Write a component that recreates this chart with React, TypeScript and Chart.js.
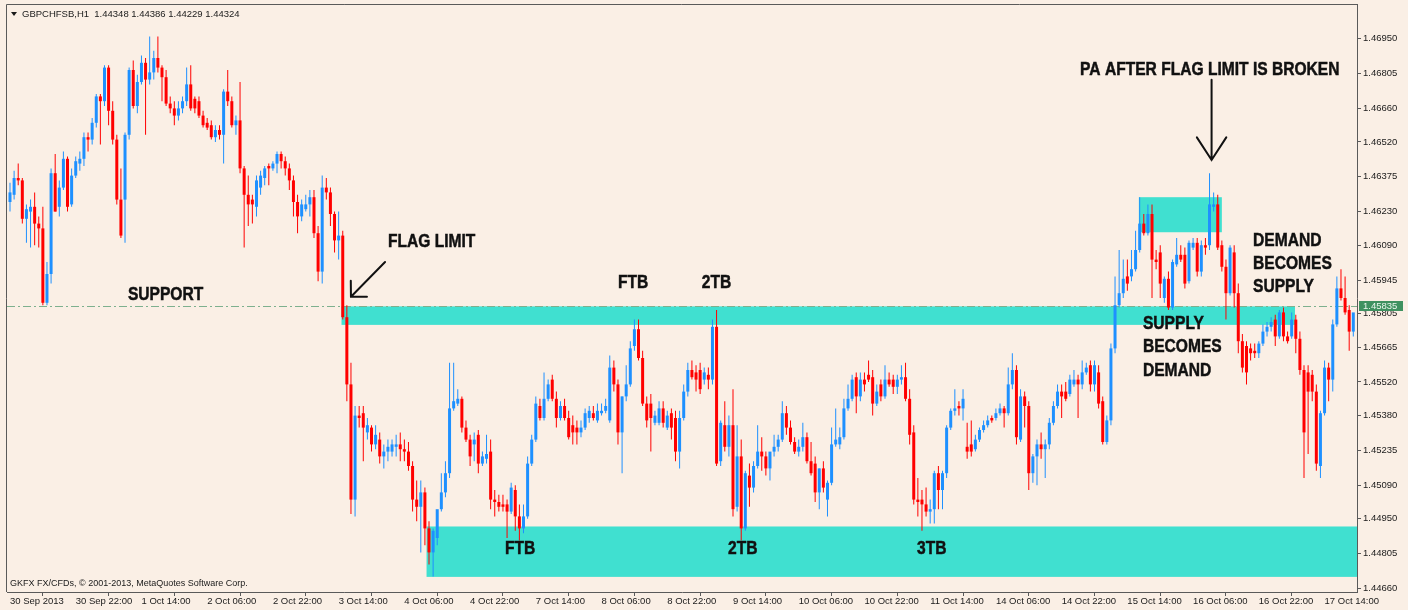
import { useEffect, useRef } from 'react';
import { Chart, registerables } from 'chart.js';

Chart.register(...registerables);

// [open, high, low, close] per H1 bar
const ohlc: [number, number, number, number][] = [
  [1.4627,1.4635,1.4623,1.4631],[1.4630,1.4640,1.4628,1.4637],[1.4637,1.4643,1.4634,1.4636],[1.4636,1.4637,1.4618,1.4620],
  [1.4620,1.4626,1.4610,1.4624],[1.4623,1.4628,1.4608,1.4625],[1.4625,1.4631,1.4609,1.4618],[1.4618,1.4621,1.4608,1.4616],
  [1.4616,1.4625,1.4584,1.4585],[1.4585,1.4602,1.4584,1.4597],[1.4597,1.4641,1.4593,1.4639],[1.4639,1.4647,1.4623,1.4623],
  [1.4625,1.4636,1.4621,1.4633],[1.4633,1.4648,1.4632,1.4645],[1.4645,1.4646,1.4623,1.4625],[1.4626,1.4641,1.4625,1.4638],
  [1.4638,1.4646,1.4637,1.4644],[1.4643,1.4648,1.4640,1.4645],[1.4645,1.4656,1.4642,1.4654],[1.4654,1.4656,1.4648,1.4653],
  [1.4653,1.4662,1.4651,1.4660],[1.4660,1.4672,1.4658,1.4671],[1.4671,1.4672,1.4651,1.4669],[1.4669,1.4684,1.4667,1.4683],
  [1.4683,1.4684,1.4659,1.4665],[1.4665,1.4669,1.4651,1.4653],[1.4653,1.4655,1.4626,1.4628],[1.4628,1.4641,1.4612,1.4613],
  [1.4628,1.4656,1.4610,1.4655],[1.4655,1.4683,1.4653,1.4682],[1.4682,1.4686,1.4666,1.4667],[1.4667,1.4680,1.4664,1.4677],
  [1.4677,1.4688,1.4676,1.4685],[1.4685,1.4687,1.4655,1.4678],[1.4678,1.4696,1.4676,1.4681],[1.4681,1.4690,1.4678,1.4687],
  [1.4687,1.4696,1.4681,1.4683],[1.4683,1.4684,1.4669,1.4679],[1.4679,1.4682,1.4667,1.4668],[1.4668,1.4671,1.4664,1.4666],
  [1.4666,1.4669,1.4659,1.4663],[1.4663,1.4669,1.4661,1.4666],[1.4666,1.4671,1.4664,1.4669],[1.4669,1.4683,1.4667,1.4676],
  [1.4676,1.4684,1.4665,1.4666],[1.4670,1.4671,1.4664,1.4666],[1.4669,1.4671,1.4662,1.4663],[1.4663,1.4665,1.4658,1.4659],
  [1.4660,1.4662,1.4657,1.4658],[1.4659,1.4661,1.4653,1.4654],[1.4654,1.4659,1.4652,1.4657],[1.4657,1.4659,1.4653,1.4655],
  [1.4655,1.4674,1.4643,1.4673],[1.4673,1.4682,1.4667,1.4669],[1.4669,1.4671,1.4658,1.4659],[1.4659,1.4663,1.4655,1.4661],
  [1.4661,1.4677,1.4639,1.4641],[1.4641,1.4642,1.4608,1.4630],[1.4630,1.4638,1.4617,1.4626],[1.4628,1.4630,1.4618,1.4626],
  [1.4625,1.4638,1.4621,1.4636],[1.4633,1.4640,1.4630,1.4638],[1.4637,1.4642,1.4634,1.4641],[1.4642,1.4643,1.4634,1.4641],
  [1.4641,1.4644,1.4640,1.4643],[1.4643,1.4648,1.4639,1.4647],[1.4647,1.4648,1.4641,1.4644],[1.4644,1.4646,1.4638,1.4641],
  [1.4641,1.4643,1.4632,1.4636],[1.4636,1.4638,1.4621,1.4627],[1.4627,1.4630,1.4614,1.4621],[1.4621,1.4628,1.4619,1.4626],
  [1.4624,1.4630,1.4623,1.4626],[1.4626,1.4632,1.4621,1.4629],[1.4629,1.4632,1.4612,1.4614],[1.4614,1.4617,1.4594,1.4598],
  [1.4598,1.4638,1.4593,1.4633],[1.4633,1.4637,1.4628,1.4631],[1.4631,1.4633,1.4617,1.4622],[1.4622,1.4623,1.4606,1.4611],
  [1.4611,1.4623,1.4603,1.4613],[1.4613,1.4615,1.4578,1.4579],[1.4579,1.4584,1.4544,1.4551],[1.4551,1.4560,1.4497,1.4503],
  [1.4503,1.4542,1.4496,1.4538],[1.4538,1.4542,1.4533,1.4537],[1.4539,1.4542,1.4519,1.4533],[1.4531,1.4537,1.4528,1.4534],
  [1.4533,1.4534,1.4523,1.4526],[1.4526,1.4534,1.4524,1.4530],[1.4528,1.4531,1.4518,1.4521],[1.4521,1.4526,1.4516,1.4523],
  [1.4523,1.4528,1.4519,1.4525],[1.4523,1.4528,1.4521,1.4526],[1.4525,1.4530,1.4521,1.4526],[1.4526,1.4531,1.4519,1.4524],
  [1.4524,1.4528,1.4519,1.4523],[1.4523,1.4527,1.4515,1.4517],[1.4517,1.4519,1.4498,1.4503],[1.4503,1.4511,1.4494,1.4500],
  [1.4500,1.4511,1.4481,1.4506],[1.4506,1.4508,1.4484,1.4491],[1.4491,1.4494,1.4476,1.4481],[1.4481,1.4491,1.4471,1.4490],
  [1.4487,1.4494,1.4484,1.4499],[1.4499,1.4514,1.4498,1.4506],[1.4506,1.4519,1.4504,1.4514],[1.4514,1.4560,1.4512,1.4541],
  [1.4541,1.4560,1.4540,1.4544],[1.4543,1.4549,1.4542,1.4545],[1.4545,1.4546,1.4531,1.4533],[1.4533,1.4536,1.4527,1.4528],
  [1.4528,1.4530,1.4517,1.4521],[1.4526,1.4531,1.4519,1.4528],[1.4530,1.4532,1.4514,1.4518],[1.4518,1.4523,1.4517,1.4521],
  [1.4520,1.4530,1.4518,1.4522],[1.4523,1.4528,1.4499,1.4503],[1.4503,1.4507,1.4496,1.4502],[1.4502,1.4505,1.4498,1.4500],
  [1.4501,1.4505,1.4498,1.4500],[1.4501,1.4503,1.4487,1.4498],[1.4498,1.4510,1.4497,1.4508],[1.4507,1.4509,1.4490,1.4496],
  [1.4496,1.4501,1.4486,1.4491],[1.4491,1.4501,1.4489,1.4496],[1.4496,1.4521,1.4495,1.4518],[1.4518,1.4530,1.4517,1.4528],
  [1.4528,1.4546,1.4527,1.4543],[1.4542,1.4545,1.4536,1.4537],[1.4537,1.4556,1.4536,1.4545],[1.4545,1.4553,1.4544,1.4551],
  [1.4553,1.4555,1.4544,1.4545],[1.4545,1.4548,1.4533,1.4537],[1.4537,1.4544,1.4536,1.4542],[1.4542,1.4545,1.4536,1.4537],
  [1.4537,1.4540,1.4528,1.4529],[1.4534,1.4538,1.4526,1.4531],[1.4533,1.4536,1.4526,1.4531],[1.4531,1.4536,1.4529,1.4533],
  [1.4533,1.4541,1.4532,1.4539],[1.4537,1.4542,1.4535,1.4540],[1.4539,1.4542,1.4536,1.4537],[1.4536,1.4543,1.4535,1.4540],
  [1.4539,1.4543,1.4538,1.4540],[1.4540,1.4545,1.4539,1.4542],[1.4536,1.4563,1.4535,1.4558],[1.4558,1.4561,1.4548,1.4551],
  [1.4551,1.4553,1.4526,1.4531],[1.4531,1.4546,1.4514,1.4546],[1.4546,1.4559,1.4544,1.4551],[1.4551,1.4569,1.4550,1.4566],
  [1.4567,1.4578,1.4565,1.4574],[1.4574,1.4578,1.4561,1.4562],[1.4562,1.4565,1.4542,1.4543],[1.4543,1.4546,1.4533,1.4536],
  [1.4543,1.4547,1.4523,1.4537],[1.4535,1.4540,1.4534,1.4538],[1.4535,1.4544,1.4534,1.4541],[1.4541,1.4544,1.4533,1.4535],
  [1.4533,1.4540,1.4532,1.4538],[1.4539,1.4541,1.4528,1.4533],[1.4537,1.4540,1.4519,1.4523],[1.4523,1.4540,1.4516,1.4537],
  [1.4537,1.4551,1.4536,1.4548],[1.4548,1.4560,1.4546,1.4557],[1.4557,1.4561,1.4553,1.4554],[1.4556,1.4559,1.4548,1.4553],
  [1.4557,1.4560,1.4547,1.4549],[1.4553,1.4558,1.4551,1.4556],[1.4555,1.4558,1.4549,1.4553],[1.4553,1.4578,1.4551,1.4575],
  [1.4575,1.4582,1.4517,1.4518],[1.4519,1.4536,1.4517,1.4535],[1.4534,1.4544,1.4523,1.4525],[1.4525,1.4538,1.4521,1.4534],
  [1.4534,1.4549,1.4496,1.4499],[1.4500,1.4534,1.4498,1.4521],[1.4521,1.4528,1.4486,1.4491],[1.4491,1.4515,1.4490,1.4514],
  [1.4513,1.4518,1.4500,1.4508],[1.4508,1.4519,1.4506,1.4517],[1.4517,1.4534,1.4516,1.4523],[1.4523,1.4529,1.4515,1.4521],
  [1.4521,1.4523,1.4513,1.4516],[1.4516,1.4521,1.4511,1.4523],[1.4523,1.4530,1.4521,1.4525],[1.4525,1.4530,1.4523,1.4528],
  [1.4528,1.4544,1.4527,1.4539],[1.4539,1.4542,1.4530,1.4533],[1.4533,1.4536,1.4526,1.4527],[1.4527,1.4529,1.4522,1.4523],
  [1.4523,1.4528,1.4521,1.4525],[1.4525,1.4535,1.4523,1.4529],[1.4529,1.4531,1.4518,1.4519],[1.4519,1.4527,1.4513,1.4514],
  [1.4518,1.4521,1.4502,1.4506],[1.4506,1.4516,1.4499,1.4516],[1.4516,1.4519,1.4506,1.4508],[1.4503,1.4511,1.4496,1.4510],
  [1.4510,1.4533,1.4509,1.4526],[1.4526,1.4541,1.4525,1.4528],[1.4526,1.4533,1.4524,1.4529],[1.4529,1.4545,1.4528,1.4541],
  [1.4541,1.4551,1.4540,1.4545],[1.4545,1.4555,1.4544,1.4553],[1.4554,1.4556,1.4539,1.4546],[1.4546,1.4556,1.4544,1.4553],
  [1.4553,1.4556,1.4548,1.4551],[1.4555,1.4561,1.4552,1.4553],[1.4554,1.4557,1.4538,1.4543],[1.4543,1.4551,1.4542,1.4548],
  [1.4551,1.4553,1.4544,1.4546],[1.4546,1.4559,1.4545,1.4553],[1.4553,1.4556,1.4550,1.4551],[1.4553,1.4555,1.4547,1.4550],
  [1.4550,1.4555,1.4547,1.4553],[1.4553,1.4559,1.4551,1.4554],[1.4554,1.4560,1.4544,1.4545],[1.4545,1.4549,1.4526,1.4530],
  [1.4531,1.4534,1.4501,1.4503],[1.4503,1.4512,1.4496,1.4502],[1.4503,1.4507,1.4490,1.4501],[1.4501,1.4508,1.4496,1.4498],
  [1.4498,1.4503,1.4493,1.4499],[1.4499,1.4515,1.4493,1.4514],[1.4514,1.4517,1.4499,1.4507],[1.4507,1.4515,1.4499,1.4514],
  [1.4514,1.4534,1.4512,1.4533],[1.4533,1.4541,1.4532,1.4540],[1.4540,1.4549,1.4538,1.4541],[1.4542,1.4544,1.4538,1.4541],
  [1.4541,1.4549,1.4536,1.4545],[1.4525,1.4535,1.4520,1.4523],[1.4526,1.4536,1.4521,1.4523],[1.4524,1.4530,1.4523,1.4528],
  [1.4528,1.4533,1.4527,1.4532],[1.4532,1.4536,1.4531,1.4534],[1.4534,1.4538,1.4533,1.4536],[1.4537,1.4538,1.4535,1.4536],
  [1.4537,1.4541,1.4536,1.4539],[1.4539,1.4543,1.4538,1.4541],[1.4541,1.4542,1.4533,1.4539],[1.4539,1.4558,1.4538,1.4551],
  [1.4551,1.4564,1.4549,1.4557],[1.4557,1.4559,1.4526,1.4529],[1.4528,1.4549,1.4527,1.4546],[1.4546,1.4548,1.4533,1.4542],
  [1.4542,1.4544,1.4507,1.4514],[1.4514,1.4522,1.4510,1.4521],[1.4521,1.4528,1.4509,1.4526],[1.4526,1.4531,1.4520,1.4524],
  [1.4524,1.4528,1.4512,1.4526],[1.4526,1.4537,1.4524,1.4535],[1.4535,1.4544,1.4534,1.4542],[1.4542,1.4551,1.4541,1.4548],
  [1.4548,1.4551,1.4537,1.4546],[1.4548,1.4552,1.4544,1.4545],[1.4547,1.4555,1.4546,1.4553],[1.4551,1.4557,1.4550,1.4553],
  [1.4553,1.4555,1.4537,1.4551],[1.4551,1.4561,1.4549,1.4556],[1.4556,1.4560,1.4555,1.4558],[1.4559,1.4561,1.4548,1.4551],
  [1.4551,1.4561,1.4548,1.4559],[1.4556,1.4559,1.4541,1.4543],[1.4544,1.4546,1.4526,1.4527],[1.4527,1.4538,1.4526,1.4536],
  [1.4536,1.4568,1.4534,1.4566],[1.4566,1.4596,1.4564,1.4584],[1.4584,1.4607,1.4583,1.4589],[1.4589,1.4603,1.4587,1.4595],
  [1.4596,1.4603,1.4590,1.4593],[1.4596,1.4607,1.4594,1.4599],[1.4599,1.4615,1.4598,1.4607],[1.4607,1.4629,1.4606,1.4618],
  [1.4618,1.4622,1.4613,1.4614],[1.4614,1.4626,1.4613,1.4622],[1.4622,1.4626,1.4587,1.4603],[1.4603,1.4607,1.4599,1.4602],
  [1.4606,1.4609,1.4587,1.4593],[1.4587,1.4596,1.4585,1.4595],[1.4595,1.4598,1.4582,1.4583],[1.4583,1.4603,1.4582,1.4602],
  [1.4601,1.4612,1.4600,1.4605],[1.4605,1.4609,1.4602,1.4603],[1.4605,1.4608,1.4591,1.4593],[1.4594,1.4611,1.4593,1.4610],
  [1.4608,1.4612,1.4607,1.4610],[1.4610,1.4612,1.4596,1.4598],[1.4598,1.4611,1.4596,1.4609],[1.4609,1.4612,1.4605,1.4608],
  [1.4609,1.4639,1.4607,1.4626],[1.4625,1.4631,1.4623,1.4626],[1.4626,1.4630,1.4607,1.4608],[1.4609,1.4611,1.4598,1.4600],
  [1.4600,1.4603,1.4578,1.4589],[1.4589,1.4609,1.4588,1.4608],[1.4606,1.4609,1.4583,1.4589],[1.4589,1.4593,1.4564,1.4569],
  [1.4569,1.4572,1.4556,1.4558],[1.4567,1.4569,1.4551,1.4556],[1.4566,1.4568,1.4561,1.4564],[1.4565,1.4568,1.4562,1.4564],
  [1.4564,1.4569,1.4562,1.4568],[1.4568,1.4576,1.4567,1.4573],[1.4573,1.4577,1.4571,1.4575],[1.4575,1.4579,1.4573,1.4577],
  [1.4578,1.4580,1.4567,1.4571],[1.4571,1.4582,1.4570,1.4581],[1.4581,1.4583,1.4569,1.4571],[1.4571,1.4573,1.4568,1.4569],
  [1.4571,1.4581,1.4570,1.4578],[1.4578,1.4580,1.4564,1.4570],[1.4570,1.4573,1.4555,1.4557],[1.4557,1.4559,1.4512,1.4531],
  [1.4556,1.4559,1.4522,1.4548],[1.4555,1.4557,1.4544,1.4548],[1.4548,1.4551,1.4515,1.4518],[1.4517,1.4540,1.4512,1.4539],
  [1.4539,1.4561,1.4538,1.4558],[1.4558,1.4560,1.4544,1.4553],[1.4553,1.4578,1.4548,1.4576],[1.4576,1.4596,1.4575,1.4591],
  [1.4591,1.4599,1.4586,1.4587],[1.4587,1.4596,1.4580,1.4581],[1.4582,1.4584,1.4565,1.4573],[1.4573,1.4578,1.4571,1.4581],
];

const timeLabels = [
  '30 Sep 2013', '30 Sep 22:00', '1 Oct 14:00', '2 Oct 06:00', '2 Oct 22:00', '3 Oct 14:00', '4 Oct 06:00',
  '4 Oct 22:00', '7 Oct 14:00', '8 Oct 06:00', '8 Oct 22:00', '9 Oct 14:00', '10 Oct 06:00', '10 Oct 22:00',
  '11 Oct 14:00', '14 Oct 06:00', '14 Oct 22:00', '15 Oct 14:00', '16 Oct 06:00', '16 Oct 22:00', '17 Oct 14:00',
];
const timeTickBars = [0, 16, 32, 48, 64, 80, 96, 112, 128, 144, 160, 176, 192, 208, 224, 240, 256, 272, 288, 304, 320];

const priceTicks = [
  1.46950, 1.46805, 1.46660, 1.46520, 1.46375, 1.46230, 1.46090, 1.45945, 1.45805,
  1.45665, 1.45520, 1.45380, 1.45235, 1.45090, 1.44950, 1.44805, 1.44660,
];

const currentPrice = 1.45835;
const headerText = 'GBPCHFSB,H1  1.44348 1.44386 1.44229 1.44324';
const footerText = 'GKFX FX/CFDs, \u00A9 2001-2013, MetaQuotes Software Corp.';

// zones: bar range and price range
const zones = [
  { from: 80.7, to: 312.8, top: 1.45835, bottom: 1.45758 },
  { from: 101.4, to: 328.5, top: 1.44918, bottom: 1.44708 },
  { from: 274.8, to: 295.0, top: 1.46290, bottom: 1.46144 },
];

const notes = [
  { text: 'SUPPORT', bar: 28.7, price: 1.45887 },
  { text: 'FLAG LIMIT', bar: 92.0, price: 1.46108 },
  { text: 'FTB', bar: 148.0, price: 1.45937 },
  { text: '2TB', bar: 168.4, price: 1.45937 },
  { text: 'FTB', bar: 120.5, price: 1.44829 },
  { text: '2TB', bar: 174.8, price: 1.44829 },
  { text: '3TB', bar: 220.8, price: 1.44829 },
  { text: 'PA AFTER FLAG LIMIT IS BROKEN', bar: 260.5, price: 1.46825 },
  { text: 'DEMAND', bar: 302.6, price: 1.46114 },
  { text: 'BECOMES', bar: 302.6, price: 1.46018 },
  { text: 'SUPPLY', bar: 302.6, price: 1.45922 },
  { text: 'SUPPLY', bar: 275.8, price: 1.45768 },
  { text: 'BECOMES', bar: 275.8, price: 1.45672 },
  { text: 'DEMAND', bar: 275.8, price: 1.45572 },
];

const arrows = [
  { fromBar: 91.3, fromPrice: 1.46020, toBar: 83.0, toPrice: 1.45875, head: 16, angle: 45 },
  { fromBar: 292.5, fromPrice: 1.46779, toBar: 292.5, toPrice: 1.46445, head: 27, angle: 33 },
];

const BG = '#FAEFE5';
const UP = '#1E90FF';
const DOWN = '#FF0000';
const ZONE = '#40E0D0';
const FRAME = '#5a5a5a';

export default function App() {
  const ref = useRef<HTMLCanvasElement | null>(null);

  useEffect(() => {
    document.body.style.margin = '0';
    const canvas = ref.current;
    if (!canvas) return;

    const colors = ohlc.map((c) => (c[3] >= c[0] ? UP : DOWN));
    const wickData = ohlc.map((c, i) => ({ x: i, y: [c[2], c[1]] }));
    const bodyData = ohlc.map((c, i) => ({ x: i, y: [Math.min(c[0], c[3]), Math.max(c[0], c[3])] }));

    const decor = {
      id: 'decor',
      beforeDraw(chart: any) {
        const { ctx, width, height } = chart;
        ctx.save();
        ctx.fillStyle = BG;
        ctx.fillRect(0, 0, width, height);
        ctx.restore();
      },
      beforeDatasetsDraw(chart: any) {
        const { ctx, chartArea } = chart;
        const xs = chart.scales.x;
        const ys = chart.scales.y;
        ctx.save();
        ctx.beginPath();
        ctx.rect(chartArea.left, chartArea.top, chartArea.right - chartArea.left, chartArea.bottom - chartArea.top);
        ctx.clip();
        ctx.fillStyle = ZONE;
        zones.forEach((z) => {
          const x1 = xs.getPixelForValue(z.from);
          const x2 = xs.getPixelForValue(z.to);
          const y1 = ys.getPixelForValue(z.top);
          const y2 = ys.getPixelForValue(z.bottom);
          ctx.fillRect(x1, y1, x2 - x1, y2 - y1);
        });
        const ly = Math.round(ys.getPixelForValue(currentPrice)) + 0.5;
        ctx.strokeStyle = '#7DB08E';
        ctx.lineWidth = 1;
        ctx.setLineDash([8, 3, 2, 3]);
        ctx.beginPath();
        ctx.moveTo(chartArea.left, ly);
        ctx.lineTo(chartArea.right, ly);
        ctx.stroke();
        ctx.restore();
      },
      afterDatasetsDraw(chart: any) {
        const { ctx } = chart;
        const xs = chart.scales.x;
        const ys = chart.scales.y;
        ctx.save();
        ctx.fillStyle = '#111111';
        ctx.strokeStyle = '#111111';
        ctx.lineWidth = 0.5;
        ctx.font = 'bold 19px "Liberation Sans", Arial, sans-serif';
        ctx.textBaseline = 'middle';
        ctx.textAlign = 'left';
        notes.forEach((n) => {
          const px = xs.getPixelForValue(n.bar);
          const py = ys.getPixelForValue(n.price);
          ctx.save();
          ctx.translate(px, py);
          ctx.scale(0.82, 1);
          ctx.fillText(n.text, 0, 1);
          ctx.strokeText(n.text, 0, 1);
          ctx.restore();
        });
        ctx.strokeStyle = '#111111';
        ctx.lineWidth = 2;
        ctx.lineCap = 'round';
        arrows.forEach((a) => {
          const x1 = xs.getPixelForValue(a.fromBar);
          const y1 = ys.getPixelForValue(a.fromPrice);
          const x2 = xs.getPixelForValue(a.toBar);
          const y2 = ys.getPixelForValue(a.toPrice);
          const ang = Math.atan2(y1 - y2, x1 - x2);
          const da = (a.angle * Math.PI) / 180;
          ctx.beginPath();
          ctx.moveTo(x1, y1);
          ctx.lineTo(x2, y2);
          ctx.moveTo(x2 + a.head * Math.cos(ang - da), y2 + a.head * Math.sin(ang - da));
          ctx.lineTo(x2, y2);
          ctx.lineTo(x2 + a.head * Math.cos(ang + da), y2 + a.head * Math.sin(ang + da));
          ctx.stroke();
        });
        ctx.restore();
      },
      afterDraw(chart: any) {
        const { ctx, chartArea } = chart;
        const ys = chart.scales.y;
        ctx.save();
        // frame
        ctx.strokeStyle = FRAME;
        ctx.lineWidth = 1;
        ctx.beginPath();
        ctx.moveTo(Math.round(chartArea.left) - 0.5, Math.round(chartArea.bottom));
        ctx.lineTo(Math.round(chartArea.left) - 0.5, Math.round(chartArea.top) + 0.5);
        ctx.lineTo(Math.round(chartArea.right), Math.round(chartArea.top) + 0.5);
        ctx.stroke();
        // header
        ctx.fillStyle = '#1a1a1a';
        ctx.beginPath();
        ctx.moveTo(11, 12);
        ctx.lineTo(17, 12);
        ctx.lineTo(14, 16);
        ctx.closePath();
        ctx.fill();
        ctx.font = '9.5px "Liberation Sans", Arial, sans-serif';
        ctx.textBaseline = 'middle';
        ctx.textAlign = 'left';
        ctx.fillText(headerText, 22, 14.5);
        ctx.font = '9px "Liberation Sans", Arial, sans-serif';
        ctx.fillText(footerText, 10, 583.5);
        // current price label
        const py = ys.getPixelForValue(currentPrice);
        ctx.fillStyle = '#3F9160';
        ctx.fillRect(chartArea.right + 2, Math.round(py) - 5, 44, 10);
        ctx.fillStyle = '#EAF5EC';
        ctx.font = '9.5px "Liberation Sans", Arial, sans-serif';
        ctx.fillText('1.45835', chartArea.right + 6, Math.round(py) + 0.5);
        ctx.restore();
      },
    };

    const tickFont = { family: '"Liberation Sans", Arial, sans-serif', size: 9.5 };

    const chart = new Chart(canvas, {
      type: 'bar',
      data: {
        datasets: [
          {
            label: 'wick',
            data: wickData as any,
            backgroundColor: colors,
            borderWidth: 0,
            barThickness: 1,
            grouped: false,
            inflateAmount: 0,
            order: 2,
          } as any,
          {
            label: 'body',
            data: bodyData as any,
            backgroundColor: colors,
            borderWidth: 0,
            barThickness: 3,
            grouped: false,
            minBarLength: 1,
            inflateAmount: 0,
            order: 1,
          } as any,
        ],
      },
      plugins: [decor],
      options: {
        responsive: false,
        animation: false,
        devicePixelRatio: 1,
        layout: { padding: { left: 7, top: 4, right: 0, bottom: 0 } },
        plugins: { legend: { display: false }, tooltip: { enabled: false } },
        scales: {
          x: {
            type: 'linear',
            min: -0.73,
            max: 327.9,
            offset: false,
            position: 'bottom',
            grid: { display: true, drawOnChartArea: false, drawTicks: true, tickLength: 4, color: FRAME },
            border: { display: true, color: FRAME, width: 1 },
            ticks: {
              autoSkip: false,
              maxRotation: 0,
              minRotation: 0,
              align: 'start',
              padding: 0,
              color: '#1a1a1a',
              font: tickFont,
              callback: (_v: any, idx: number) => timeLabels[idx],
            },
            afterBuildTicks: (scale: any) => {
              scale.ticks = timeTickBars.map((v) => ({ value: v }));
            },
            afterFit: (scale: any) => {
              scale.height = 18;
              scale.paddingLeft = 0;
              scale.paddingRight = 0;
              scale.paddingTop = 0;
              scale.paddingBottom = 0;
            },
          } as any,
          y: {
            type: 'linear',
            position: 'right',
            min: 1.44645,
            max: 1.47095,
            grid: { display: true, drawOnChartArea: false, drawTicks: true, tickLength: 4, color: FRAME },
            border: { display: true, color: FRAME, width: 1 },
            ticks: {
              autoSkip: false,
              padding: 2,
              color: '#1a1a1a',
              font: tickFont,
              callback: (v: any) => Number(v).toFixed(5),
            },
            afterBuildTicks: (scale: any) => {
              scale.ticks = priceTicks.map((v) => ({ value: v }));
            },
            afterFit: (scale: any) => {
              scale.width = 51;
              scale.paddingLeft = 0;
              scale.paddingRight = 0;
              scale.paddingTop = 0;
              scale.paddingBottom = 0;
            },
          } as any,
        },
      },
    });

    return () => {
      chart.destroy();
    };
  }, []);

  return <canvas ref={ref} width={1408} height={610} style={{ display: 'block' }} />;
}
